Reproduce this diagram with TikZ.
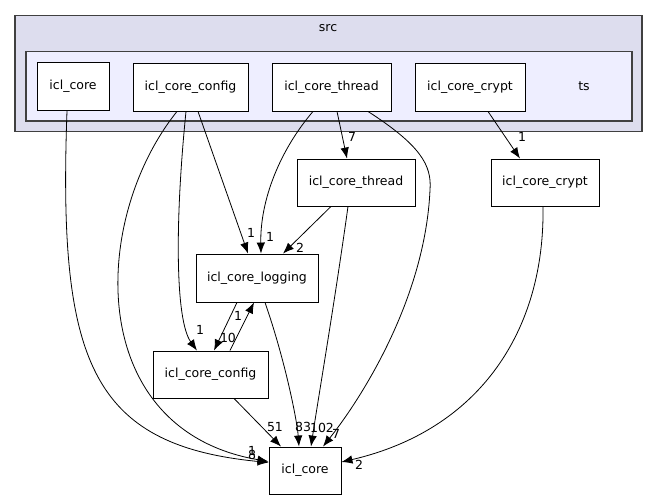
\documentclass[tikz,border=0pt]{standalone}
\usepackage{fontspec}
\setmainfont{DejaVu Sans}
\usepackage{tikz}
\usetikzlibrary{
  arrows.meta,%
  calc,%
  positioning
}
\definecolor{srcfill}{HTML}{DDDDEE}
\definecolor{tsfill}{HTML}{EEEEFF}
\definecolor{clusterline}{HTML}{404040}
\tikzset{>={Latex[length=11pt,width=8.5pt]}}
\tikzset{font=\fontsize{12.5}{14}\selectfont}
\tikzset{dirbox/.style={draw=black, fill=white, line width=0.9pt, inner sep=0pt,
    minimum height=47pt}}
\tikzset{dep/.style={->, line width=0.8pt}}
\tikzset{elabel/.style={inner sep=0pt}}
\tikzset{cluster/.style={draw=clusterline, line width=1.6pt}}

\begin{document}
\begin{tikzpicture}[x=1pt,y=-1pt]
        \useasboundingbox (0,0) rectangle (659,500);
        \draw[cluster, fill=srcfill] (15,15.5) rectangle (642,131.5);
        \node (srclabel) at (328,28) {src};
        \draw[cluster, fill=tsfill] (26,51.5) rectangle (632,121);
        \node (tslabel) at (584,86) {ts};
        % directories inside ts
        \node[dirbox, minimum width=72pt, minimum height=48pt] (topcore) at (73,86.5) {icl\_core};
        \node[dirbox, minimum width=115pt, minimum height=48pt] (topconfig) at (190.5,87) {icl\_core\_config};
        \node[dirbox, minimum width=119pt, minimum height=48pt] (topthread) at (331.5,87) {icl\_core\_thread};
        \node[dirbox, minimum width=110pt, minimum height=48pt] (topcrypt) at (470,87) {icl\_core\_crypt};
        % directories outside
        \node[dirbox, minimum width=118pt] (thread) at (356,182.5) {icl\_core\_thread};
        \node[dirbox, minimum width=108pt] (crypt) at (545,182.5) {icl\_core\_crypt};
        \node[dirbox, minimum width=122pt, minimum height=48pt] (logging) at (257,278) {icl\_core\_logging};
        \node[dirbox, minimum width=115pt] (config) at (210.5,374.5) {icl\_core\_config};
        \node[dirbox, minimum width=72pt] (core) at (305,470.5) {icl\_core};

        \draw[dep] ($(topcore.south)+(-6,0)$) .. controls (58,360) and (90,445) .. ($(core.west)+(0,-8)$);
        \draw[dep] ($(topconfig.south)+(-13.5,0)$) .. controls (90,220) and (85,430) .. ($(core.west)+(0,-9)$);
        \draw[dep] ($(topconfig.south)+(-4.5,0)$) .. controls (175,220) and (175,320) .. ($(config.north)+(-13.5,0)$);
        \draw[dep] ($(topconfig.south)+(7.5,0)$) -- ($(logging.north)+(-9,0)$);
        \draw[dep] ($(topthread.south)+(-18.5,0)$) .. controls (280,150) and (260,200) .. ($(logging.north)+(4,0)$);
        \draw[dep] ($(topthread.south)+(5.5,0)$) -- ($(thread.north)+(-9,0)$);
        \draw[dep] ($(topthread.south)+(36.5,0)$) .. controls (420,145) and (432,165) .. (430,190)
          .. controls (425,300) and (360,400) .. ($(core.north)+(18,0)$);
        \draw[dep] ($(topcrypt.south)+(18,0)$) -- ($(crypt.north)+(-25,0)$);
        \draw[dep] ($(thread.south)+(-25,0)$) -- ($(logging.north)+(26,0)$);
        \draw[dep] ($(thread.south)+(-8,0)$) .. controls (335,300) and (318,400) .. ($(core.north)+(6,0)$);
        \draw[dep] ($(logging.south)+(8,0)$) .. controls (285,360) and (297,420) .. ($(core.north)+(-6,0)$);
        \draw[dep] ($(config.south)+(23.5,0)$) -- ($(core.north)+(-24,0)$);
        \draw[dep] ($(logging.south)+(-20,0)$) -- ($(config.north)+(3.5,0)$);
        \draw[dep] ($(config.north)+(19.5,0)$) -- ($(logging.south)+(-3,0)$);
        \draw[dep] ($(crypt.south)+(-2,0)$) .. controls (545,330) and (480,430) .. ($(core.east)+(0,-8.5)$);

        % edge counts
        \node[elabel] (ncoreone) at (252,451) {1};
        \node[elabel] (ncoreeight) at (252,455) {8};
        \node[elabel] (nconfig) at (200,330) {1};
        \node[elabel] (nconflog) at (251,233) {1};
        \node[elabel] (nthrlog) at (270,237) {1};
        \node[elabel] (nthrthr) at (352,137) {7};
        \node[elabel] (nthrcore) at (336,434) {7};
        \node[elabel] (ncrypt) at (522,137) {1};
        \node[elabel] (nthreadlog) at (300,248) {2};
        \node[elabel] (nthreadcore) at (322,428) {102};
        \node[elabel] (nlogcore) at (303,427) {83};
        \node[elabel] (nconfcore) at (275,427) {51};
        \node[elabel] (nlogconf) at (228,338) {10};
        \node[elabel] (nconflogup) at (238,316) {1};
        \node[elabel] (ncryptcore) at (359,465) {2};
      \end{tikzpicture}
\end{document}
